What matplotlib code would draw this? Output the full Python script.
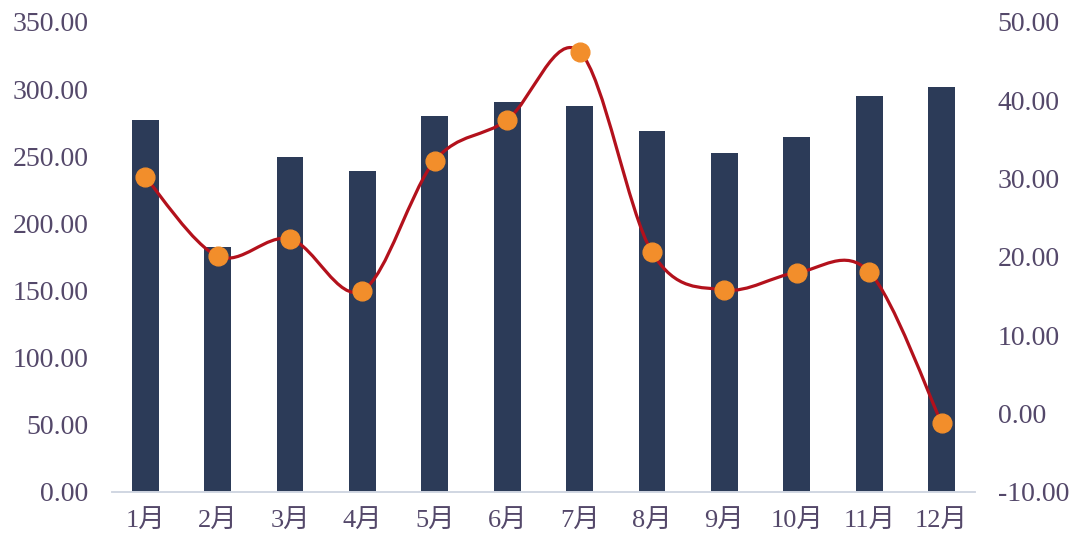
import matplotlib
matplotlib.use("Agg")
import matplotlib.pyplot as plt
from matplotlib.path import Path
from matplotlib.patches import PathPatch

months = ["1月", "2月", "3月", "4月", "5月", "6月", "7月", "8月", "9月", "10月", "11月", "12月"]
bar_values = [277, 182.5, 249.5, 239, 280, 290.5, 287.5, 269, 252.5, 264.5, 295, 301.5]
line_values = [30.2, 20.1, 22.3, 15.7, 32.3, 37.5, 46.2, 20.6, 15.8, 18.0, 18.1, -1.2]

font_family = ["Liberation Serif", "Noto Sans CJK SC"]
text_color = "#54486a"
bar_color = "#2c3b58"
line_color = "#b3111c"
marker_color = "#f28e2b"

plt.rcParams["font.family"] = font_family

fig = plt.figure(figsize=(10.82, 5.48), dpi=100)
ax = fig.add_axes([0.1035, 0.1022, 0.7975, 0.8578])
ax2 = ax.twinx()

x = list(range(len(months)))
ax.bar(x, bar_values, width=0.37, color=bar_color, zorder=2)
ax.set_ylim(0, 350)
ax.set_yticks(range(0, 351, 50))
ax.set_yticklabels([f"{v:.2f}" for v in range(0, 351, 50)])
ax.set_xlim(-0.46, 11.46)
ax.set_xticks(x)
ax.set_xticklabels(months)

# smoothed line (Excel-like bezier through the points)
verts = [(x[0], line_values[0])]
codes = [Path.MOVETO]
n = len(x)
for i in range(n - 1):
    p0 = (x[i - 1], line_values[i - 1]) if i > 0 else (x[i], line_values[i])
    p1 = (x[i], line_values[i])
    p2 = (x[i + 1], line_values[i + 1])
    p3 = (x[i + 2], line_values[i + 2]) if i + 2 < n else p2
    c1 = (p1[0] + (p2[0] - p0[0]) / 6, p1[1] + (p2[1] - p0[1]) / 6)
    c2 = (p2[0] - (p3[0] - p1[0]) / 6, p2[1] - (p3[1] - p1[1]) / 6)
    verts += [c1, c2, p2]
    codes += [Path.CURVE4] * 3
ax2.add_patch(PathPatch(Path(verts, codes), facecolor="none", edgecolor=line_color,
                        lw=2.3, zorder=3))
ax2.plot(x, line_values, linestyle="none", marker="o", markersize=13.5,
         color=marker_color, zorder=4)
ax2.set_ylim(-10, 50)
ax2.set_yticks(range(-10, 51, 10))
ax2.set_yticklabels([f"{v:.2f}" for v in range(-10, 51, 10)])

for a in (ax, ax2):
    for side in ("top", "left", "right"):
        a.spines[side].set_visible(False)
    a.spines["bottom"].set_color("#d0d6e2")
    a.spines["bottom"].set_linewidth(1.2)
    a.tick_params(length=0, labelsize=20, colors=text_color)
ax.tick_params(axis="y", pad=17)
ax2.tick_params(axis="y", pad=16.5)
ax.tick_params(axis="x", pad=13, labelsize=19)

fig.savefig("out.png", dpi=100, facecolor="white")
